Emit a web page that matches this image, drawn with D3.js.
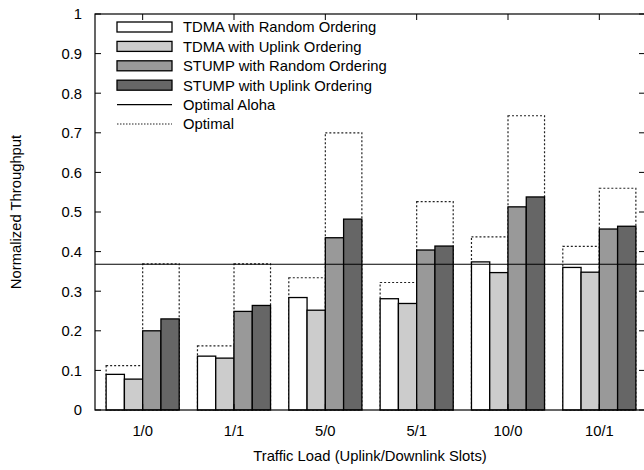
<!DOCTYPE html>
<html>
<head>
<meta charset="utf-8">
<script src="https://cdn.jsdelivr.net/npm/d3@7"></script>
<style>
  body { margin: 0; background: #fff; }
  svg text { font-family: "Liberation Sans", Arial, sans-serif; font-size: 14.8px; fill: #000; }
</style>
</head>
<body>
<div id="chart"></div>
<script>
// data
var categories = ["1/0", "1/1", "5/0", "5/1", "10/0", "10/1"];
var seriesNames = ["TDMA with Random Ordering", "TDMA with Uplink Ordering",
                   "STUMP with Random Ordering", "STUMP with Uplink Ordering"];
var tdmaRandom  = [0.090, 0.136, 0.284, 0.281, 0.374, 0.360];
var tdmaUplink  = [0.078, 0.131, 0.252, 0.269, 0.347, 0.348];
var stumpRandom = [0.200, 0.249, 0.435, 0.404, 0.513, 0.457];
var stumpUplink = [0.230, 0.264, 0.482, 0.414, 0.538, 0.464];
var optimalTdma  = [0.112, 0.162, 0.334, 0.322, 0.437, 0.413];
var optimalStump = [0.369, 0.369, 0.700, 0.526, 0.743, 0.560];
var optimalAloha = 0.368;
var yTicks = [0, 0.1, 0.2, 0.3, 0.4, 0.5, 0.6, 0.7, 0.8, 0.9, 1];

var seriesValues = [tdmaRandom, tdmaUplink, stumpRandom, stumpUplink];
var fills = ["#ffffff", "#cccccc", "#999999", "#666666"];

var W = 644, H = 470;
var plotL = 95, plotR = 645, plotT = 14, plotB = 410;

var svg = d3.select("#chart").append("svg")
  .attr("width", W)
  .attr("height", H);

var x = d3.scaleBand()
  .domain(categories)
  .range([97, 645])
  .paddingInner(0.2)
  .paddingOuter(0.1);

var x1 = d3.scaleBand()
  .domain(d3.range(4))
  .range([0, x.bandwidth()]);

var y = d3.scaleLinear()
  .domain([0, 1])
  .range([plotB, plotT]);

// optimal dotted boxes (behind bars)
var optBoxes = [];
categories.forEach(function(c, i) {
  optBoxes.push({cat: c, first: 0, v: optimalTdma[i]});
  optBoxes.push({cat: c, first: 2, v: optimalStump[i]});
});

svg.append("g").selectAll("rect")
  .data(optBoxes)
  .enter().append("rect")
    .attr("x", function(d) { return x(d.cat) + x1(d.first); })
    .attr("y", function(d) { return y(d.v); })
    .attr("width", x1.bandwidth() * 2)
    .attr("height", function(d) { return y(0) - y(d.v); })
    .attr("fill", "none")
    .attr("stroke", "#222")
    .attr("stroke-width", 1.2)
    .attr("stroke-dasharray", "2,2");

// bars
var groups = svg.append("g").selectAll("g")
  .data(categories)
  .enter().append("g")
    .attr("transform", function(d) { return "translate(" + x(d) + ",0)"; });

groups.selectAll("rect")
  .data(function(d, i) { return seriesValues.map(function(s, k) { return {k: k, v: s[i]}; }); })
  .enter().append("rect")
    .attr("x", function(d) { return x1(d.k); })
    .attr("y", function(d) { return y(d.v); })
    .attr("width", x1.bandwidth())
    .attr("height", function(d) { return y(0) - y(d.v); })
    .attr("fill", function(d) { return fills[d.k]; })
    .attr("stroke", "#000")
    .attr("stroke-width", 1.3);

// optimal aloha line
svg.append("line")
  .attr("x1", plotL).attr("x2", plotR)
  .attr("y1", y(optimalAloha)).attr("y2", y(optimalAloha))
  .attr("stroke", "#000")
  .attr("stroke-width", 1.2);

// frame
svg.append("rect")
  .attr("x", plotL).attr("y", plotT)
  .attr("width", plotR - plotL).attr("height", plotB - plotT)
  .attr("fill", "none")
  .attr("stroke", "#000")
  .attr("stroke-width", 1.2);

// y axis (ticks inward, mirrored on right)
var yAxis = svg.append("g");
yTicks.forEach(function(t) {
  yAxis.append("line")
    .attr("x1", plotL).attr("x2", plotL + 6)
    .attr("y1", y(t)).attr("y2", y(t))
    .attr("stroke", "#000");
  yAxis.append("line")
    .attr("x1", plotR - 6).attr("x2", plotR)
    .attr("y1", y(t)).attr("y2", y(t))
    .attr("stroke", "#000");
  yAxis.append("text")
    .attr("x", 82)
    .attr("y", y(t))
    .attr("dy", "0.36em")
    .attr("text-anchor", "end")
    .text(d3.format("~g")(t));
});

// x axis labels and top/bottom ticks
var xAxis = svg.append("g");
categories.forEach(function(c) {
  var cx = x(c) + x.bandwidth() / 2;
  xAxis.append("line")
    .attr("x1", cx).attr("x2", cx)
    .attr("y1", plotT).attr("y2", plotT + 6)
    .attr("stroke", "#000");
  xAxis.append("line")
    .attr("x1", cx).attr("x2", cx)
    .attr("y1", plotB - 6).attr("y2", plotB)
    .attr("stroke", "#000");
  xAxis.append("text")
    .attr("x", cx)
    .attr("y", 436)
    .attr("text-anchor", "middle")
    .text(c);
});

// axis titles
svg.append("text")
  .attr("x", (plotL + plotR) / 2)
  .attr("y", 461)
  .attr("text-anchor", "middle")
  .text("Traffic Load (Uplink/Downlink Slots)");

svg.append("text")
  .attr("transform", "translate(21," + ((plotT + plotB) / 2) + ") rotate(-90)")
  .attr("text-anchor", "middle")
  .text("Normalized Throughput");

// legend
var legend = svg.append("g");
var rowY = function(i) { return 27 + i * 19.4; };
seriesNames.forEach(function(name, k) {
  legend.append("rect")
    .attr("x", 117).attr("y", rowY(k) - 5)
    .attr("width", 55).attr("height", 10)
    .attr("fill", fills[k])
    .attr("stroke", "#000")
    .attr("stroke-width", 1.3);
  legend.append("text")
    .attr("x", 183).attr("y", rowY(k))
    .attr("dy", "0.36em")
    .text(name);
});
legend.append("line")
  .attr("x1", 117).attr("x2", 172)
  .attr("y1", rowY(4)).attr("y2", rowY(4))
  .attr("stroke", "#000").attr("stroke-width", 1.2);
legend.append("text")
  .attr("x", 183).attr("y", rowY(4)).attr("dy", "0.36em")
  .text("Optimal Aloha");
legend.append("line")
  .attr("x1", 117).attr("x2", 172)
  .attr("y1", rowY(5)).attr("y2", rowY(5))
  .attr("stroke", "#222").attr("stroke-width", 1.2)
  .attr("stroke-dasharray", "1.5,1.5");
legend.append("text")
  .attr("x", 183).attr("y", rowY(5)).attr("dy", "0.36em")
  .text("Optimal");
</script>
</body>
</html>
